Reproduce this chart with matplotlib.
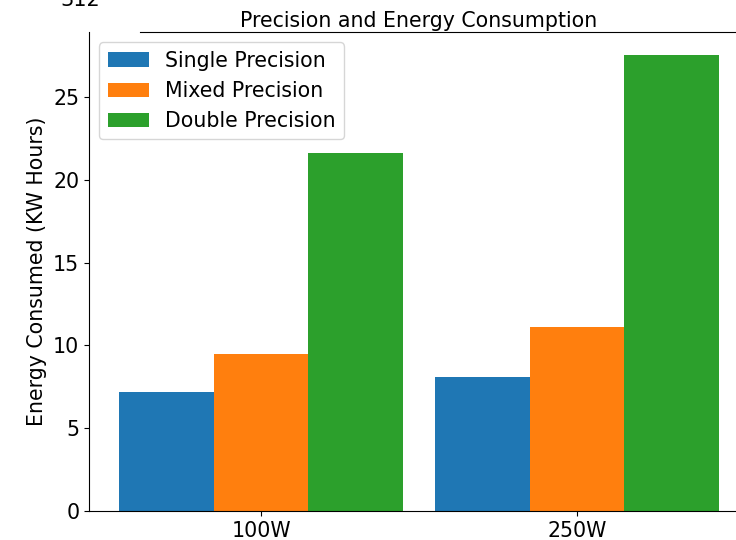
import numpy as np
import matplotlib
matplotlib.use("Agg")
import matplotlib.pyplot as plt
from matplotlib.lines import Line2D

# values
categories = ["100W", "250W"]
single_prec = [7.2, 8.1]
mixed_prec = [9.5, 11.1]
double_prec = [21.6, 27.55]

fig = plt.figure(figsize=(7.36, 5.4), dpi=100)
# the reference is a cropped screenshot: axes run past the right edge
ax = fig.add_axes([89 / 736, 1 - 511 / 540, 660 / 736, 478.8 / 540])

x = np.arange(len(categories))
w = 0.3
ax.bar(x - w, single_prec, w, color="#1f77b4", label="Single Precision")
ax.bar(x, mixed_prec, w, color="#ff7f0e", label="Mixed Precision")
ax.bar(x + w, double_prec, w, color="#2ca02c", label="Double Precision")

ax.set_xticks(x)
ax.set_xticklabels(categories)
ax.set_yticks([0, 5, 10, 15, 20, 25])
ax.tick_params(labelsize=14.8)
ax.set_ylabel("Energy Consumed (KW Hours)", fontsize=14.8)
ax.set_title("Precision and Energy Consumption", fontsize=14.8, pad=4)
ax.legend(loc="upper left", fontsize=14.8)

# top spine only partly visible in the screenshot
ax.spines["top"].set_visible(False)
ax.spines["right"].set_visible(False)
ax.add_line(Line2D([51 / 660, 1], [1, 1], transform=ax.transAxes,
                   color="black", linewidth=0.8, clip_on=False))

# leftover cell output number, cut at the top
fig.text(60 / 736, 1 - 10 / 540, "312", fontsize=15, va="bottom")

fig.savefig("out.png", dpi=100)
